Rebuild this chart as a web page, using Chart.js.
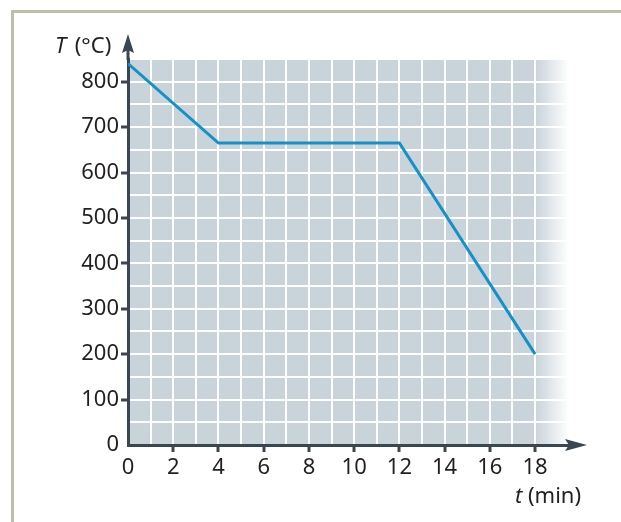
<!DOCTYPE html>
<html>
<head>
<meta charset="utf-8">
<title>Temperature vs time</title>
<script src="https://cdn.jsdelivr.net/npm/chart.js@4"></script>
<style>
    html, body { margin: 0; padding: 0; background: #ffffff; }
    #wrap { position: relative; width: 621px; height: 522px; overflow: hidden; }
    #frame {
        position: absolute; left: 11px; top: 10px; right: 0; bottom: 0;
        border-top: 3px solid #bdbeac; border-left: 3px solid #bdbeac;
    }
    #chart { position: absolute; left: 0; top: 0; }
</style>
</head>
<body>
<div id="wrap">
    <div id="frame"></div>
    <canvas id="chart" width="621" height="522"></canvas>
</div>
<script>
/* ============================================
   Cooling curve: T (°C) against t (min)
   ============================================ */

const timeValues = [0, 4, 12, 18];
const tempValues = [840, 665, 665, 200];

const xTicks = [0, 2, 4, 6, 8, 10, 12, 14, 16, 18];
const yTicks = [0, 100, 200, 300, 400, 500, 600, 700, 800];

const AXIS_COLOR = '#3a4651';
const TEXT_COLOR = '#231f20';
const GRID_BG = '#c8d3da';
const LINE_COLOR = '#1590c8';
const FONT = '"Noto Sans", "Open Sans", sans-serif';
const FONT_SIZE = 22;

// grey squared paper that fades out to the right of the last labelled tick
const paperPlugin = {
    id: 'paper',
    beforeDraw(chart) {
        const { ctx, chartArea } = chart;
        const xs = chart.scales.x;
        const fadeStart = xs.getPixelForValue(xTicks[xTicks.length - 1]);
        const grad = ctx.createLinearGradient(chartArea.left, 0, chartArea.right, 0);
        const w = chartArea.right - chartArea.left;
        grad.addColorStop(0, GRID_BG);
        grad.addColorStop((fadeStart - chartArea.left) / w, GRID_BG);
        grad.addColorStop(1, 'rgba(255,255,255,1)');
        ctx.save();
        ctx.fillStyle = grad;
        ctx.fillRect(chartArea.left, chartArea.top, w, chartArea.bottom - chartArea.top);
        ctx.restore();
    }
};

// axis arrows and axis titles
const arrowPlugin = {
    id: 'arrows',
    afterDraw(chart) {
        const { ctx, chartArea } = chart;
        const x0 = chart.scales.x.getPixelForValue(0);
        const y0 = chart.scales.y.getPixelForValue(0);
        ctx.save();
        ctx.strokeStyle = AXIS_COLOR;
        ctx.fillStyle = AXIS_COLOR;
        ctx.lineWidth = 3;

        // y axis arrow
        ctx.beginPath();
        ctx.moveTo(x0, chartArea.top + 1);
        ctx.lineTo(x0, 50);
        ctx.stroke();
        ctx.beginPath();
        ctx.moveTo(x0, 34);
        ctx.lineTo(x0 + 6, 53);
        ctx.lineTo(x0, 50);
        ctx.lineTo(x0 - 6, 53);
        ctx.closePath();
        ctx.fill();

        // x axis arrow
        ctx.beginPath();
        ctx.moveTo(chartArea.right - 1, y0);
        ctx.lineTo(570, y0);
        ctx.stroke();
        ctx.beginPath();
        ctx.moveTo(587, y0);
        ctx.lineTo(565, y0 - 6);
        ctx.lineTo(569, y0);
        ctx.lineTo(565, y0 + 6);
        ctx.closePath();
        ctx.fill();

        // axis titles
        ctx.fillStyle = TEXT_COLOR;
        ctx.textBaseline = 'alphabetic';
        ctx.textAlign = 'left';
        ctx.font = 'italic ' + FONT_SIZE + 'px ' + FONT;
        ctx.fillText('T', 55, 53);
        let w = ctx.measureText('T').width;
        ctx.font = FONT_SIZE + 'px ' + FONT;
        ctx.fillText(' (°C)', 58 + w, 53);

        ctx.font = 'italic ' + FONT_SIZE + 'px ' + FONT;
        ctx.fillText('t', 515, 503);
        w = ctx.measureText('t').width;
        ctx.font = FONT_SIZE + 'px ' + FONT;
        ctx.fillText(' (min)', 515 + w, 503);
        ctx.restore();
    }
};

const points = timeValues.map((t, i) => ({ x: t, y: tempValues[i] }));

new Chart(document.getElementById('chart'), {
    type: 'line',
    data: {
        datasets: [{
            data: points,
            borderColor: LINE_COLOR,
            borderWidth: 3,
            pointRadius: 0,
            tension: 0,
            fill: false
        }]
    },
    options: {
        responsive: false,
        animation: false,
        layout: { padding: { left: 0, top: 59, right: 52, bottom: 0 } },
        plugins: { legend: { display: false }, tooltip: { enabled: false } },
        scales: {
            x: {
                type: 'linear',
                min: 0,
                max: 19.5,
                afterFit(scale) { scale.height = 77; },
                ticks: {
                    stepSize: 1,
                    autoSkip: false,
                    maxRotation: 0,
                    padding: 3,
                    color: TEXT_COLOR,
                    font: { family: FONT, size: FONT_SIZE },
                    callback: v => xTicks.includes(v) ? String(v) : ''
                },
                grid: {
                    color: '#ffffff',
                    lineWidth: 2,
                    tickLength: 7,
                    tickWidth: 3,
                    tickColor: c => (xTicks.includes(c.tick.value) && c.tick.value !== 0) ? AXIS_COLOR : 'rgba(0,0,0,0)'
                },
                border: { display: true, color: AXIS_COLOR, width: 3 }
            },
            y: {
                min: 0,
                max: 850,
                afterFit(scale) { scale.width = 128; },
                ticks: {
                    stepSize: 50,
                    autoSkip: false,
                    padding: 2,
                    color: TEXT_COLOR,
                    font: { family: FONT, size: FONT_SIZE },
                    callback: v => yTicks.includes(v) ? String(v) : ''
                },
                grid: {
                    color: '#ffffff',
                    lineWidth: 2,
                    tickLength: 7,
                    tickWidth: 3,
                    tickColor: c => (yTicks.includes(c.tick.value) && c.tick.value !== 0) ? AXIS_COLOR : 'rgba(0,0,0,0)'
                },
                border: { display: true, color: AXIS_COLOR, width: 3 }
            }
        }
    },
    plugins: [paperPlugin, arrowPlugin]
});
</script>
</body>
</html>
